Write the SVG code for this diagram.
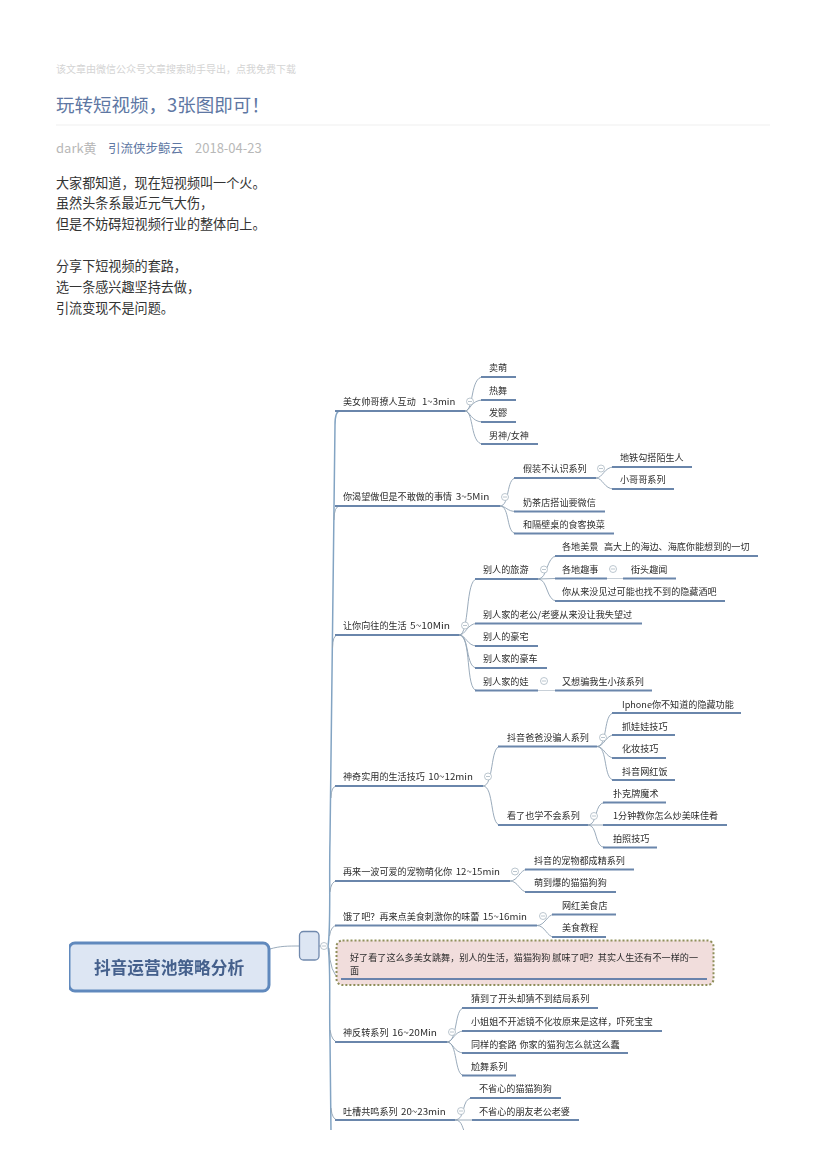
<svg xmlns="http://www.w3.org/2000/svg" width="826" height="1169" viewBox="0 0 826 1169">
<style>
text{font-family:"Noto Sans CJK SC","Noto Sans",sans-serif}
.t{font-size:9.100px;fill:#2c2c2c}
.u{stroke:#6a86ab;stroke-width:1.800;fill:none}
.c{stroke:#8fa2b3;stroke-width:.9;fill:none}
.s{stroke:#83a4c3;stroke-width:1.500;fill:none}
.o{fill:#fff;stroke:#a9b8c2;stroke-width:.8}
.m{stroke:#a9b8c2;stroke-width:.8}
.b{font-size:13.100px;fill:#333}
</style>
<defs><clipPath id="clip"><rect x="0" y="340" width="826" height="790"/></clipPath><filter id="soft" x="0" y="0" width="1" height="1"><feGaussianBlur stdDeviation="0.300"/></filter></defs>
<rect width="826" height="1169" fill="#fff"/>
<g id="page-header">
<text x="56" y="72.500" font-size="10" fill="#d4d4d4">该文章由微信公众号文章搜索助手导出，点我免费下载</text>
<text x="56" y="111.500" font-size="18.500" fill="#5e77a3">玩转短视频，3张图即可！</text>
<line x1="56" y1="125" x2="770" y2="125" stroke="#efefef" stroke-width="1"/>
<text x="56" y="153" font-size="13" fill="#b8b8b8">dark黄</text>
<text x="108" y="153" font-size="12.500" fill="#5e77a3">引流侠步鲸云</text>
<text x="195" y="153" font-size="13" fill="#b8b8b8">2018-04-23</text>
</g>
<g id="page-body">
<text class="b" x="56" y="187.500">大家都知道，现在短视频叫一个火。</text>
<text class="b" x="56" y="208">虽然头条系最近元气大伤，</text>
<text class="b" x="56" y="228.500">但是不妨碍短视频行业的整体向上。</text>
<text class="b" x="56" y="270.500">分享下短视频的套路，</text>
<text class="b" x="56" y="291.500">选一条感兴趣坚持去做，</text>
<text class="b" x="56" y="312.500">引流变现不是问题。</text>
</g>
<g clip-path="url(#clip)"><g filter="url(#soft)">
<g id="connectors">
<path class="c" d="M270 949C280 946 288 946 299 946"/>
<line class="c" x1="319" y1="946" x2="321" y2="946"/>
<path class="s" d="M328 946C331 930 329 880 330 840L335 425Q335 411 340 411"/>
<path class="s" d="M328 946C331 965 329 1000 330 1040L331 1132"/>
<path class="c" d="M334 520Q334 506 340 506M332.500 648Q332.500 635 338 635M331 798Q331 786 337 786M330 892Q331 881 337 881M329.500 936Q331 925.500 337 925.500M329 948Q330 974 340 979M330 1030Q332 1042 338 1042M331 1108Q332 1120 338 1120"/>
<path class="c" d="M465 411C474 411 470 377 483 377M465 411C470 411 471 400 483 400M465 411C470 411 471 422 483 422M465 411C474 411 470 444 483 444"/>
<path class="c" d="M500 506C510 506 506 478 516 478M500 506C506 506 507 511.500 516 511.500M500 506C510 506 506 533.500 516 533.500"/>
<path class="c" d="M596 478C603 478 604 467 614 467M596 478C603 478 604 489 614 489"/>
<path class="c" d="M459 635C470 635 465 579 477 579M459 635C466 635 467 623.500 477 623.500M459 635C466 635 467 646 477 646M459 635C470 635 465 668 477 668M459 635C472 635 465 690.500 477 690.500"/>
<path class="c" d="M538 579C548 579 546 556 557 556M538 579L555 578.500M538 579C548 579 546 601 557 601"/>
<line x1="607" y1="578.500" x2="623" y2="578.500" stroke="#c8d0d8" stroke-width="1"/>
<line x1="538" y1="690.500" x2="555" y2="690.500" stroke="#c8d0d8" stroke-width="1"/>
<path class="c" d="M483 786C494 786 490 746.500 500 746.500M483 786C494 786 490 825 500 825"/>
<path class="c" d="M597 746.500C608 746.500 603 713 614 713M597 746.500C604 746.500 606 735 614 735M597 746.500C604 746.500 606 758 614 758M597 746.500C608 746.500 603 780 614 780"/>
<path class="c" d="M588 825C598 825 594 802.500 605 802.500M588 825L605 825M588 825C598 825 594 847.500 605 847.500"/>
<path class="c" d="M510 881C518 881 520 869.500 527 869.500M510 881C518 881 520 892 527 892"/>
<path class="c" d="M537 925.500C545 925.500 547 914.500 554 914.500M537 925.500C545 925.500 547 937 554 937"/>
<path class="c" d="M447 1042C458 1042 454 1008 464 1008M447 1042C453 1042 454 1031 464 1031M447 1042C453 1042 454 1053 464 1053M447 1042C458 1042 454 1075.500 464 1075.500"/>
<path class="c" d="M455 1120C466 1120 461 1098 472 1098M455 1120L472 1120M455 1120C463 1120 462 1130 466 1134"/>
</g>
<g id="root"><rect x="69" y="943" width="200" height="48" rx="6" fill="#dde6f3" stroke="#6089bd" stroke-width="3"/><text x="169" y="974" text-anchor="middle" font-size="16.700" font-weight="700" fill="#44608c">抖音运营池策略分析</text></g>
<g id="hub"><rect x="299.500" y="931.500" width="19.500" height="28.500" rx="4" fill="#dde6f3" stroke="#7089ad" stroke-width="1.300"/><circle class="o" cx="324" cy="946" r="3.500"/><line class="m" x1="322" y1="946" x2="326" y2="946"/></g>
<g id="n1"><text class="t" x="343" y="405">美女帅哥撩人互动<tspan x="422" textLength="33.300" lengthAdjust="spacingAndGlyphs">1~3min</tspan></text><line class="u" x1="335" y1="411" x2="465" y2="411"/><circle class="o" cx="470" cy="401.500" r="3.500"/><line class="m" x1="468" y1="401.500" x2="472" y2="401.500"/></g>
<g id="n1a"><text class="t" x="489" y="371">卖萌</text><line class="u" x1="481" y1="377" x2="516" y2="377"/></g>
<g id="n1b"><text class="t" x="489" y="393.500">热舞</text><line class="u" x1="481" y1="400" x2="516" y2="400"/></g>
<g id="n1c"><text class="t" x="489" y="416">发髎</text><line class="u" x1="481" y1="422" x2="516" y2="422"/></g>
<g id="n1d"><text class="t" x="489" y="438.500">男神/女神</text><line class="u" x1="481" y1="444" x2="538" y2="444"/></g>
<g id="n2"><text class="t" x="343" y="500">你渴望做但是不敢做的事情<tspan x="455.700" textLength="33.600" lengthAdjust="spacingAndGlyphs">3~5Min</tspan></text><line class="u" x1="335" y1="506" x2="500" y2="506"/><circle class="o" cx="505" cy="497" r="3.500"/><line class="m" x1="503" y1="497" x2="507" y2="497"/></g>
<g id="n2a"><text class="t" x="523" y="472">假装不认识系列</text><line class="u" x1="514" y1="478" x2="596" y2="478"/><circle class="o" cx="601" cy="468.500" r="3.500"/><line class="m" x1="599" y1="468.500" x2="603" y2="468.500"/></g>
<g id="n2a1"><text class="t" x="620" y="461">地铁勾搭陌生人</text><line class="u" x1="612" y1="467" x2="692" y2="467"/></g>
<g id="n2a2"><text class="t" x="620" y="483">小哥哥系列</text><line class="u" x1="612" y1="489" x2="674" y2="489"/></g>
<g id="n2b"><text class="t" x="523" y="505.500">奶茶店搭讪要微信</text><line class="u" x1="514" y1="511.500" x2="605" y2="511.500"/></g>
<g id="n2c"><text class="t" x="523" y="528">和隔壁桌的食客换菜</text><line class="u" x1="514" y1="533.500" x2="614" y2="533.500"/></g>
<g id="n3"><text class="t" x="343" y="629">让你向往的生活<tspan x="410" textLength="40" lengthAdjust="spacingAndGlyphs">5~10Min</tspan></text><line class="u" x1="335" y1="635" x2="459" y2="635"/><circle class="o" cx="465" cy="625.500" r="3.500"/><line class="m" x1="463" y1="625.500" x2="467" y2="625.500"/></g>
<g id="n3a"><text class="t" x="483" y="573">别人的旅游</text><line class="u" x1="475" y1="579" x2="538" y2="579"/><circle class="o" cx="544" cy="569.500" r="3.500"/><line class="m" x1="542" y1="569.500" x2="546" y2="569.500"/></g>
<g id="n3a1"><text class="t" x="562" y="550">各地美景<tspan x="604">高大上的海边、海底你能想到的一切</tspan></text><line class="u" x1="555" y1="556" x2="758" y2="556"/></g>
<g id="n3a2"><text class="t" x="562" y="573">各地趣事</text><line class="u" x1="555" y1="578.500" x2="607" y2="578.500"/><circle class="o" cx="613" cy="569" r="3.500"/><line class="m" x1="611" y1="569" x2="615" y2="569"/></g>
<g id="n3a2a"><text class="t" x="631" y="573">街头趣闻</text><line class="u" x1="623" y1="578.500" x2="676" y2="578.500"/></g>
<g id="n3a3"><text class="t" x="562" y="595">你从来没见过可能也找不到的隐藏酒吧</text><line class="u" x1="555" y1="601" x2="725" y2="601"/></g>
<g id="n3b"><text class="t" x="483" y="617.500">别人家的老公/老婆从来没让我失望过</text><line class="u" x1="475" y1="623.500" x2="642" y2="623.500"/></g>
<g id="n3c"><text class="t" x="483" y="640">别人的豪宅</text><line class="u" x1="475" y1="646" x2="538" y2="646"/></g>
<g id="n3d"><text class="t" x="483" y="662">别人家的豪车</text><line class="u" x1="475" y1="668" x2="547" y2="668"/></g>
<g id="n3e"><text class="t" x="483" y="684.500">别人家的娃</text><line class="u" x1="475" y1="690.500" x2="538" y2="690.500"/><circle class="o" cx="544" cy="681" r="3.500"/><line class="m" x1="542" y1="681" x2="546" y2="681"/></g>
<g id="n3e1"><text class="t" x="562" y="684.500">又想骗我生小孩系列</text><line class="u" x1="555" y1="690.500" x2="652" y2="690.500"/></g>
<g id="n4"><text class="t" x="343" y="780">神奇实用的生活技巧<tspan x="428.300" textLength="44.700" lengthAdjust="spacingAndGlyphs">10~12min</tspan></text><line class="u" x1="335" y1="786" x2="483" y2="786"/><circle class="o" cx="488" cy="776.500" r="3.500"/><line class="m" x1="486" y1="776.500" x2="490" y2="776.500"/></g>
<g id="n4a"><text class="t" x="507" y="741">抖音爸爸没骗人系列</text><line class="u" x1="498" y1="746.500" x2="597" y2="746.500"/><circle class="o" cx="603" cy="737.500" r="3.500"/><line class="m" x1="601" y1="737.500" x2="605" y2="737.500"/></g>
<g id="n4a1"><text class="t" x="622" y="707.500">Iphone你不知道的隐藏功能</text><line class="u" x1="612" y1="713" x2="741" y2="713"/></g>
<g id="n4a2"><text class="t" x="622" y="729.500">抓娃娃技巧</text><line class="u" x1="612" y1="735" x2="675" y2="735"/></g>
<g id="n4a3"><text class="t" x="622" y="752">化妆技巧</text><line class="u" x1="612" y1="758" x2="666" y2="758"/></g>
<g id="n4a4"><text class="t" x="622" y="774.500">抖音网红饭</text><line class="u" x1="612" y1="780" x2="675" y2="780"/></g>
<g id="n4b"><text class="t" x="507" y="819">看了也学不会系列</text><line class="u" x1="498" y1="825" x2="588" y2="825"/><circle class="o" cx="594" cy="816" r="3.500"/><line class="m" x1="592" y1="816" x2="596" y2="816"/></g>
<g id="n4b1"><text class="t" x="613" y="796.500">扑克牌魔术</text><line class="u" x1="603" y1="802.500" x2="666" y2="802.500"/></g>
<g id="n4b2"><text class="t" x="613" y="819">1分钟教你怎么炒美味佳肴</text><line class="u" x1="603" y1="825" x2="727" y2="825"/></g>
<g id="n4b3"><text class="t" x="613" y="841.500">拍照技巧</text><line class="u" x1="603" y1="847.500" x2="657" y2="847.500"/></g>
<g id="n5"><text class="t" x="343" y="875">再来一波可爱的宠物萌化你<tspan x="455.700" textLength="44.300" lengthAdjust="spacingAndGlyphs">12~15min</tspan></text><line class="u" x1="335" y1="881" x2="510" y2="881"/><circle class="o" cx="515" cy="871.500" r="3.500"/><line class="m" x1="513" y1="871.500" x2="517" y2="871.500"/></g>
<g id="n5a"><text class="t" x="534" y="863.500">抖音的宠物都成精系列</text><line class="u" x1="525" y1="869.500" x2="634" y2="869.500"/></g>
<g id="n5b"><text class="t" x="534" y="886">萌到爆的猫猫狗狗</text><line class="u" x1="525" y1="892" x2="616" y2="892"/></g>
<g id="n6"><text class="t" x="343" y="920">饿了吧？再来点美食刺激你的味蕾<tspan x="482.700" textLength="44.300" lengthAdjust="spacingAndGlyphs">15~16min</tspan></text><line class="u" x1="335" y1="925.500" x2="537" y2="925.500"/><circle class="o" cx="543" cy="916" r="3.500"/><line class="m" x1="541" y1="916" x2="545" y2="916"/></g>
<g id="n6a"><text class="t" x="562" y="908.500">网红美食店</text><line class="u" x1="552" y1="914.500" x2="616" y2="914.500"/></g>
<g id="n6b"><text class="t" x="562" y="931">美食教程</text><line class="u" x1="552" y1="937" x2="606" y2="937"/></g>
<g id="note"><rect x="336.500" y="940.500" width="377" height="44.500" rx="6" fill="#f1dddc" stroke="#8f8f5a" stroke-width="2" stroke-dasharray="2 2"/><text class="t" x="350" y="960.500" textLength="348">好了看了这么多美女跳舞，别人的生活，猫猫狗狗 腻味了吧？其实人生还有不一样的一</text><text class="t" x="350" y="973.500">面</text><line x1="341" y1="979" x2="707" y2="979" stroke="#6a83ac" stroke-width="1.800"/></g>
<g id="n7"><text class="t" x="343" y="1036">神反转系列<tspan x="392" textLength="45" lengthAdjust="spacingAndGlyphs">16~20Min</tspan></text><line class="u" x1="335" y1="1042" x2="447" y2="1042"/><circle class="o" cx="452" cy="1032" r="3.500"/><line class="m" x1="450" y1="1032" x2="454" y2="1032"/></g>
<g id="n7a"><text class="t" x="471" y="1002">猜到了开头却猜不到结局系列</text><line class="u" x1="462" y1="1008" x2="598" y2="1008"/></g>
<g id="n7b"><text class="t" x="471" y="1025">小姐姐不开滤镜不化妆原来是这样，吓死宝宝</text><line class="u" x1="462" y1="1031" x2="662" y2="1031"/></g>
<g id="n7c"><text class="t" x="471" y="1047.500">同样的套路<tspan x="519.500">你家的猫狗怎么就这么蠢</tspan></text><line class="u" x1="462" y1="1053" x2="628" y2="1053"/></g>
<g id="n7d"><text class="t" x="471" y="1069.500">尬舞系列</text><line class="u" x1="462" y1="1075.500" x2="516" y2="1075.500"/></g>
<g id="n8"><text class="t" x="343" y="1114.500">吐槽共鸣系列<tspan x="401" textLength="44.700" lengthAdjust="spacingAndGlyphs">20~23min</tspan></text><line class="u" x1="335" y1="1120" x2="455" y2="1120"/><circle class="o" cx="461" cy="1111" r="3.500"/><line class="m" x1="459" y1="1111" x2="463" y2="1111"/></g>
<g id="n8a"><text class="t" x="479" y="1092">不省心的猫猫狗狗</text><line class="u" x1="470" y1="1098" x2="561" y2="1098"/></g>
<g id="n8b"><text class="t" x="479" y="1114.500">不省心的朋友老公老婆</text><line class="u" x1="472" y1="1120" x2="579" y2="1120"/></g>
</g></g>
</svg>
